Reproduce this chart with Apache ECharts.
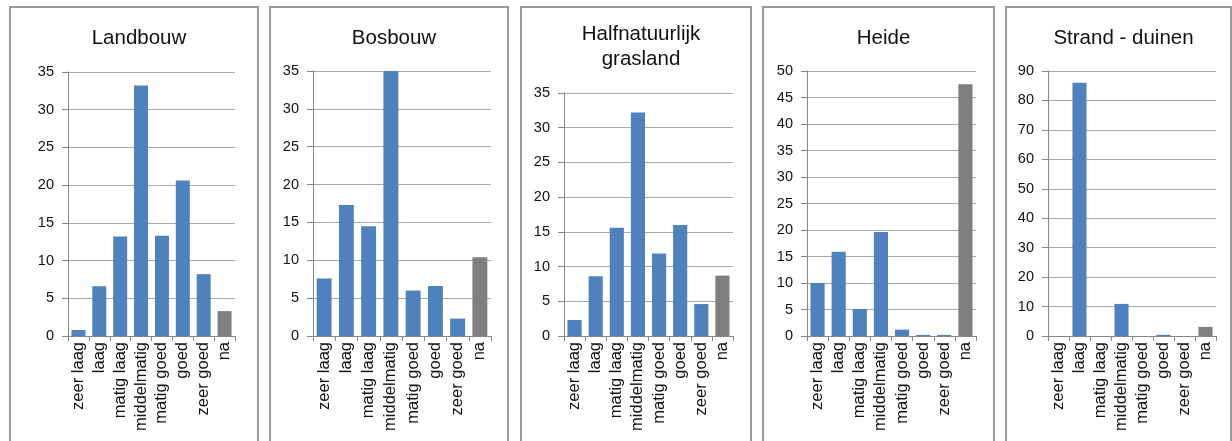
<!DOCTYPE html>
<html>
<head>
<meta charset="utf-8">
<script src="https://cdn.jsdelivr.net/npm/echarts@6/dist/echarts.min.js"></script>
<style>
  html, body { margin: 0; padding: 0; background: #fff; }
  #chart { width: 1232px; height: 441px; }
</style>
</head>
<body>
<div id="chart"></div>
<script>
// Shared categories (score classes)
const categories = ['zeer laag', 'laag', 'matig laag', 'middelmatig', 'matig goed', 'goed', 'zeer goed', 'na'];

// Percentage per land-use type
const landbouw = [0.8, 6.6, 13.2, 33.2, 13.3, 20.6, 8.2, 3.3];
const bosbouw = [7.6, 17.3, 14.5, 35.0, 6.0, 6.6, 2.3, 10.4];
const halfnatuurlijkGrasland = [2.3, 8.6, 15.6, 32.2, 11.9, 16.0, 4.6, 8.7];
const heide = [10.0, 15.9, 5.1, 19.6, 1.2, 0.2, 0.2, 47.5];
const strandDuinen = [0, 86.0, 0, 10.9, 0, 0.4, 0, 3.1];

// Panel titles and value-axis ranges
const titles = ['Landbouw', 'Bosbouw', 'Halfnatuurlijk\ngrasland', 'Heide', 'Strand - duinen'];
const axisMax = [35, 35, 35, 50, 90];
const axisStep = [5, 5, 5, 5, 10];
const seriesData = [landbouw, bosbouw, halfnatuurlijkGrasland, heide, strandDuinen];

const BLUE = '#4F81BD';
const GREY = '#7F7F7F';
const FONT = 'Liberation Sans, Arial, sans-serif';

// Panel frames (left, right) and plot areas (left, right, top)
const frames = [[10, 258], [270, 508], [521, 751], [763, 994], [1006, 1231]];
const plots = [[68, 235, 72], [313, 491, 71], [564, 733, 93], [807, 976, 71], [1048, 1216, 71]];
const plotBottom = 105;

const chart = echarts.init(document.getElementById('chart'), null, { renderer: 'canvas' });

const grids = [], xAxes = [], yAxes = [], series = [], titleComps = [], graphics = [];

seriesData.forEach((values, i) => {
  const [fl, fr] = frames[i];
  const [pl, pr, pt] = plots[i];

  graphics.push({
    type: 'rect',
    shape: { x: fl, y: 7, width: fr - fl, height: 460 },
    style: { fill: 'none', stroke: '#9a9a9a', lineWidth: 2 },
    silent: true
  });

  titleComps.push({
    text: titles[i],
    left: (fl + fr) / 2,
    top: i === 2 ? 17 : 21,
    textAlign: 'center',
    textStyle: { fontFamily: FONT, fontSize: 20.5, fontWeight: 'normal', color: '#111', lineHeight: 25 }
  });

  grids.push({ left: pl, top: pt, width: pr - pl, bottom: plotBottom, containLabel: false });

  xAxes.push({
    type: 'category',
    gridIndex: i,
    data: categories,
    boundaryGap: true,
    axisLine: { show: true, lineStyle: { color: '#868686', width: 1 } },
    axisTick: { show: true, length: 5, alignWithLabel: false, lineStyle: { color: '#868686' } },
    axisLabel: {
      interval: 0, rotate: 90, margin: 6,
      fontFamily: FONT, fontSize: 16.5, color: '#111'
    },
    splitLine: { show: false }
  });

  yAxes.push({
    type: 'value',
    gridIndex: i,
    min: 0,
    max: axisMax[i],
    interval: axisStep[i],
    axisLine: { show: true, lineStyle: { color: '#868686', width: 1 } },
    axisTick: { show: true, length: 6, lineStyle: { color: '#868686' } },
    axisLabel: { margin: 14, fontFamily: FONT, fontSize: 14.5, color: '#111' },
    splitLine: { show: true, lineStyle: { color: '#a8a8a8', width: 1 } }
  });

  series.push({
    type: 'bar',
    xAxisIndex: i,
    yAxisIndex: i,
    barCategoryGap: '33%',
    silent: true,
    data: values.map((v, k) => ({
      value: v,
      itemStyle: { color: categories[k] === 'na' ? GREY : BLUE }
    }))
  });
});

chart.setOption({
  animation: false,
  backgroundColor: '#ffffff',
  title: titleComps,
  grid: grids,
  xAxis: xAxes,
  yAxis: yAxes,
  series: series,
  graphic: graphics
});
</script>
</body>
</html>
